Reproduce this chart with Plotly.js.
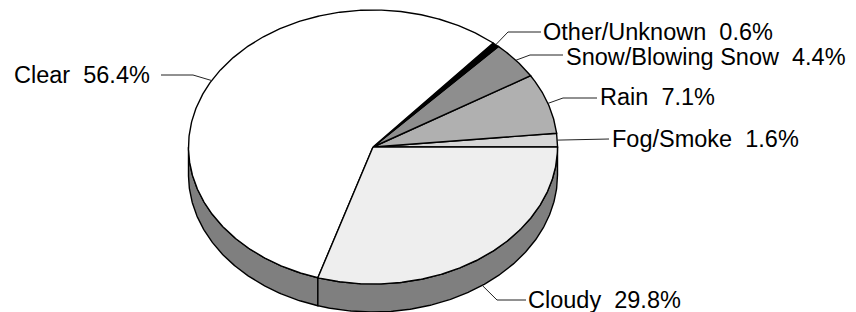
<!DOCTYPE html>
<html><head><meta charset="utf-8">
<script src="https://cdn.plot.ly/plotly-3.0.1.min.js"></script>
<style>html,body{margin:0;padding:0;background:#fff}</style>
</head><body><div id="chart" style="width:856px;height:312px"></div>
<script>
// ---- data ----
const categories = ["Fog/Smoke","Rain","Snow/Blowing Snow","Other/Unknown","Clear","Cloudy"];
const percents = [1.6, 7.1, 4.4, 0.6, 56.4, 29.8];
// ---- styles ----
const colors = ["#d6d6d6","#b0b0b0","#8e8e8e","#000000","#ffffff","#eeeeee"];
const sideColor = "#7f7f7f";
// ---- pie geometry (axis units = pixels) ----
const CX = 373, CY = 147, RX = 184.5, RY = 137, DEPTH = 28;
// label layout: [elbowX, elbowY, endX, endY, textX, textY, anchor]
const labelLayout = [
  [584, 139.5, 609, 139, 610, 138.5, "left"],
  [563, 98, 597, 98, 598, 97, "left"],
  [530, 55, 563, 55, 564, 56.5, "left"],
  [508, 32, 541, 32, 541, 32, "left"],
  [193, 75, 161, 75, 152, 74.5, "right"],
  [497, 300, 526, 300, 526, 300, "left"]
];

const total = percents.reduce((a, b) => a + b, 0);
const rad = d => d * Math.PI / 180;
function arc(a0, a1, dy) {
  const xs = [], ys = [];
  const n = Math.max(2, Math.ceil(Math.abs(a1 - a0) / 0.5));
  for (let i = 0; i <= n; i++) {
    const a = a0 + (a1 - a0) * i / n;
    xs.push(CX + RX * Math.cos(rad(a)));
    ys.push(CY - RY * Math.sin(rad(a)) + dy);
  }
  return [xs, ys];
}

const starts = [], ends = [];
let acc = 0;
percents.forEach(p => { starts.push(acc / total * 360); acc += p; ends.push(acc / total * 360); });

const traces = [];
// side walls (front half: 180..360 deg)
percents.forEach((p, i) => {
  const lo = Math.max(starts[i], 180), hi = Math.min(ends[i], 360);
  if (hi <= lo) return;
  const [tx, ty] = arc(lo, hi, 0);
  const [bx, by] = arc(hi, lo, DEPTH);
  traces.push({
    type: "scatter", mode: "lines", fill: "toself", fillcolor: sideColor,
    x: tx.concat(bx, [tx[0]]), y: ty.concat(by, [ty[0]]),
    line: { color: "#000", width: 1.4 }, hoverinfo: "skip"
  });
});
// top faces
percents.forEach((p, i) => {
  const [ax, ay] = arc(starts[i], ends[i], 0);
  traces.push({
    type: "scatter", mode: "lines", fill: "toself", fillcolor: colors[i],
    x: [CX].concat(ax, [CX]), y: [CY].concat(ay, [CY]),
    line: { color: "#000", width: 1.4 }, hoverinfo: "skip"
  });
});
// leader lines + labels
const annotations = [];
percents.forEach((p, i) => {
  const m = (starts[i] + ends[i]) / 2;
  const s = Math.sin(rad(m));
  const sx = CX + RX * Math.cos(rad(m));
  const sy = CY - RY * s + (s < 0 ? DEPTH : 0);
  const L = labelLayout[i];
  traces.push({
    type: "scatter", mode: "lines",
    x: [sx, L[0], L[2]], y: [sy, L[1], L[3]],
    line: { color: "#222", width: 1 }, hoverinfo: "skip"
  });
  annotations.push({
    x: L[4], y: L[5], xref: "x", yref: "y", xanchor: L[6], yanchor: "middle",
    showarrow: false, text: categories[i] + "\u00a0\u00a0" + p.toFixed(1) + "%",
    font: { family: "Liberation Sans, Arial, sans-serif", size: 23.5, color: "#000" }
  });
});

const layout = {
  width: 856, height: 312,
  margin: { l: 0, r: 0, t: 0, b: 0 },
  paper_bgcolor: "#fff", plot_bgcolor: "#fff",
  showlegend: false, hovermode: false,
  xaxis: { range: [0, 856], visible: false, fixedrange: true },
  yaxis: { range: [312, 0], visible: false, fixedrange: true },
  annotations: annotations
};
Plotly.newPlot("chart", traces, layout, { staticPlot: true, displayModeBar: false });
</script>
</body></html>
